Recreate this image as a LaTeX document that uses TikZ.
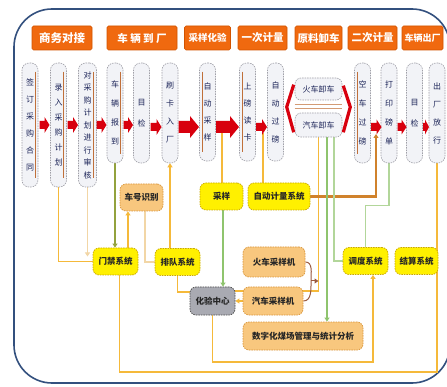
\documentclass[tikz,border=0pt]{standalone}
\usepackage{fontspec}
\setmainfont{Noto Sans CJK SC}
\usetikzlibrary{arrows.meta,calc}
\pgfdeclarelayer{frm}\pgfdeclarelayer{bg}\pgfsetlayers{frm,bg,main}
\definecolor{hdr}{HTML}{F0690F}
\definecolor{hdrd}{HTML}{D25300}
\definecolor{colfill}{HTML}{F2F3F7}
\definecolor{colbd}{HTML}{A0A0A8}
\definecolor{coltxt}{HTML}{1C2458}
\definecolor{brln}{HTML}{C0703A}
\definecolor{arrred}{HTML}{D8000E}
\definecolor{yel}{HTML}{FFF000}
\definecolor{yelbd}{HTML}{C9A800}
\definecolor{org}{HTML}{F8C77E}
\definecolor{orgbd}{HTML}{D9963A}
\definecolor{gry}{HTML}{A9AAB2}
\definecolor{framec}{HTML}{33507E}
\definecolor{lnY}{HTML}{F5B93A}
\definecolor{lnB}{HTML}{F2D6A6}
\definecolor{lnO}{HTML}{93A23E}
\definecolor{lnG}{HTML}{8FC46E}
\definecolor{lnLG}{HTML}{B2D69A}
\definecolor{lnBr}{HTML}{D0822C}
\definecolor{lnBrace}{HTML}{9A5A40}
\newcommand\myRedArrow[6]{\fill[arrred] (#1,{#3-#4}) -- ({#2-#6},{#3-#4}) -- ({#2-#6},{#3-#5}) -- (#2,#3) -- ({#2-#6},{#3+#5}) -- ({#2-#6},{#3+#4}) -- (#1,{#3+#4}) -- cycle;}
\tikzset{
 hdrbox/.style={fill=hdr, draw=hdrd, line width=0.6pt, rounded corners=1.5pt, text=white, font=\bfseries\fontsize{10.5}{12}\selectfont, minimum height=24pt, inner sep=0pt},
 colbox/.style={fill=colfill, draw=colbd, dash pattern=on 1.5pt off 1pt, line width=0.6pt, rounded corners=7pt, minimum width=16pt, inner sep=0pt, align=center, text=coltxt},
 ybox/.style={fill=yel, draw=yelbd, dash pattern=on 1.5pt off 1pt, line width=0.7pt, rounded corners=6pt, minimum height=27pt, inner sep=0pt, text=black!85, font=\bfseries\fontsize{8.5}{10}\selectfont},
 obox/.style={ybox, fill=org, draw=orgbd},
 gbox/.style={ybox, fill=gry, draw=gray!60!black},
 conn/.style={line width=1.3pt},
 tip/.style={-{Triangle[width=5pt,length=4pt]}},
 brl/.style={brln, line width=1pt},
}
\begin{document}
\begin{tikzpicture}[x=1pt,y=-1pt]
\useasboundingbox (0,0) rectangle (447,387);
\begin{pgfonlayer}{frm}
\fill[white] (0,0) rectangle (447,387);
\draw[draw=framec, fill=white, line width=1.6pt, rounded corners=38pt] (14,9) rectangle (450,383);
\end{pgfonlayer}

% headers
\node[hdrbox, minimum width=60pt, font=\bfseries\fontsize{11.5}{13}\selectfont] (h1) at (62,38) {商务对接};
\node[hdrbox, minimum width=70pt] (h2) at (142,38) {车 辆 到 厂};
\node[hdrbox, minimum width=46pt, font=\bfseries\fontsize{9.5}{12}\selectfont] (h3) at (207.5,38) {采样化验};
\node[hdrbox, minimum width=49pt] (h4) at (262.5,38) {一次计量};
\node[hdrbox, minimum width=47pt] (h5) at (318.5,38) {原料卸车};
\node[hdrbox, minimum width=49pt] (h6) at (372.5,38) {二次计量};
\node[hdrbox, minimum width=41pt, font=\bfseries\fontsize{9}{11}\selectfont] (h7) at (422.5,38) {车辆出厂};

% columns
\node[colbox, minimum height=124pt, font=\fontsize{8}{17}\selectfont] (c1) at (30,125) {签\\订\\采\\购\\合\\同};
\node[colbox, minimum height=124pt, font=\fontsize{8}{15}\selectfont] (c2) at (58.5,125) {录\\入\\采\\购\\计\\划};
\node[colbox, minimum height=124pt, minimum width=18pt, font=\fontsize{8}{12.5}\selectfont] (c3) at (87.5,125) {对\\采\\购\\计\\划\\进\\行\\审\\核};
\node[colbox, minimum height=100pt, font=\fontsize{8}{19}\selectfont] (c4) at (115,113) {车\\辆\\报\\到};
\node[colbox, minimum height=100pt, font=\fontsize{8}{21}\selectfont] (c5) at (141.5,113) {目\\检};
\node[colbox, minimum height=100pt, font=\fontsize{8}{18}\selectfont] (c6) at (170,113) {刷\\卡\\入\\厂};
\node[colbox, minimum height=98pt, font=\fontsize{8}{17}\selectfont] (c7) at (207.5,112) {自\\动\\采\\样};
\node[colbox, minimum height=98pt, font=\fontsize{8}{17}\selectfont] (c8) at (247.5,112) {上\\磅\\读\\卡};
\node[colbox, minimum height=98pt, font=\fontsize{8}{18}\selectfont] (c9) at (275.5,112) {自\\动\\过\\磅};
\node[colbox, minimum height=100pt, font=\fontsize{8}{19}\selectfont] (c11) at (362.5,113) {空\\车\\过\\磅};
\node[colbox, minimum height=100pt, font=\fontsize{8}{19}\selectfont] (c12) at (389,113) {打\\印\\磅\\单};
\node[colbox, minimum height=100pt, font=\fontsize{8}{21}\selectfont] (c13) at (414.5,113) {目\\检};
\node[colbox, minimum height=100pt, font=\fontsize{8}{18}\selectfont] (c14) at (437,113) {出\\厂\\放\\行};

% inner brown lines
\foreach \c in {c1,c2,c3,c4}{\draw[brl] ([xshift=-3pt,yshift=-9pt]\c.north east) -- ([xshift=-3pt,yshift=9pt]\c.south east);}
\foreach \c in {c7,c8,c11}{\draw[brl] ([xshift=3pt,yshift=-9pt]\c.north west) -- ([xshift=3pt,yshift=9pt]\c.south west);}

% bracket boxes
\node[colbox, minimum width=47pt, minimum height=22pt, rounded corners=6pt, font=\fontsize{8}{10}\selectfont] (bx1) at (318.5,89) {火车卸车};
\node[colbox, minimum width=47pt, minimum height=24pt, rounded corners=6pt, font=\fontsize{8}{10}\selectfont] (bx2) at (318.5,125) {汽车卸车};
\draw[brln!70, line width=0.6pt] ([yshift=-4pt]bx1.south west) -- ([yshift=-4pt]bx1.south east);
\draw[brln!70, line width=0.6pt] ([yshift=4pt]bx2.north west) -- ([yshift=4pt]bx2.north east);
\draw[arrred, line width=3.2pt, line join=miter] ([xshift=-1pt,yshift=-7pt]bx1.north west) -- ([xshift=-8pt]$(bx1.west)!0.5!(bx2.west)$) -- ([xshift=-1pt,yshift=5pt]bx2.south west);
\draw[arrred, line width=3.2pt, line join=miter] ([xshift=1pt,yshift=-8pt]bx1.north east) -- ([xshift=8pt]$(bx1.east)!0.5!(bx2.east)$) -- ([xshift=1pt,yshift=5pt]bx2.south east);

% red process arrows
\myRedArrow{39.5}{49.5}{125}{4}{8}{5}
\myRedArrow{67.5}{78}{125}{4}{8}{5}
\myRedArrow{96.5}{106.5}{125}{4}{8}{5}
\myRedArrow{123.5}{133}{125}{4}{8}{5}
\myRedArrow{150.5}{161.5}{127}{4}{8}{5}
\myRedArrow{178.5}{199}{127}{6}{11}{9}
\myRedArrow{216}{239}{127}{6}{11}{9}
\myRedArrow{256}{267}{127}{4}{8}{5}
\myRedArrow{371}{381.5}{127}{4}{7.5}{5}
\myRedArrow{397.5}{406.5}{127}{4}{7.5}{5}
\myRedArrow{423}{429}{127}{4}{7.5}{4}
\coordinate (a78) at (222,127);
\coordinate (a89) at (263,127);
\coordinate (a1112) at (376,127);

% bottom boxes
\node[obox, minimum width=43pt] (cpsb) at (141.5,197.5) {车号识别};
\node[ybox, minimum width=45pt] (mjxt) at (115.5,261.5) {门禁系统};
\node[ybox, minimum width=45pt] (pdxt) at (177.5,262) {排队系统};
\node[ybox, minimum width=43pt] (cy) at (221.5,196.5) {采样};
\node[ybox, minimum width=62pt] (zdjl) at (279,196.5) {自动计量系统};
\node[gbox, minimum width=45pt, minimum height=28pt] (hyzx) at (212.5,301) {化验中心};
\node[obox, minimum width=62pt, minimum height=30pt] (yckz) at (274,262) {火车采样机};
\node[obox, minimum width=60pt, minimum height=28pt] (hyzd) at (273,301) {汽车采样机};
\node[obox, minimum width=120pt, minimum height=28pt] (jcfx) at (303,336) {数字化煤场管理与统计分析};
\node[ybox, minimum width=45pt] (jlxt) at (365.5,261) {调度系统};
\node[ybox, minimum width=43pt] (jsxt) at (416.5,261) {结算系统};

\coordinate (b14) at (437,372);
\coordinate (b9) at (373,362);
\coordinate (jn) at (311,281);

\begin{pgfonlayer}{bg}
\draw[conn, lnY] (c2.south) |- (mjxt.west);
\draw[conn, lnB, tip] (c3.south) -- ([yshift=5pt]c3.south |- mjxt.west);
\draw[conn, lnO, tip] (c4.south) -- (c4.south |- mjxt.north);
\draw[conn, lnY, tip] ([xshift=12.5pt]mjxt.north) -- ([xshift=12.5pt]mjxt.north |- cpsb.south);
\draw[conn, lnB] ([xshift=3.5pt]cpsb.south) |- (pdxt.west);
\draw[conn, lnY, tip] (c6.south |- pdxt.north) -- (c6.south);
\draw[conn, lnY] (pdxt.south) |- ([yshift=9pt]hyzx.west);
\draw[conn, lnY] ([xshift=4pt]mjxt.south) |- (b14) -- (c14.south);
\draw[conn, lnY, tip] (hyzx.south) |- (b9) -- (b9 |- jlxt.south);
\draw[conn, lnY, tip] (hyzd.west) -- (hyzx.east);
\draw[conn, lnY] (bx2.south) |- ([yshift=10pt]hyzx.east);
\draw[lnBrace, line width=1pt] (yckz.east) to[out=0,in=90] (jn) to[out=-90,in=0] (hyzd.east);
\draw[lnBrace, line width=1pt, tip] (jn) -- (jn -| bx2.south);
\draw[conn, lnY] ([yshift=-6pt]a78) -- (a78 |- cy.north);
\draw[conn, lnG, line width=1.8pt, tip] ([xshift=1.5pt]cy.south) -- ([xshift=1.5pt]cy.south |- hyzx.north);
\draw[conn, lnY] ([yshift=-6pt]a89) -- (a89 |- zdjl.north);
\draw[line width=2.6pt, lnBr, tip] (zdjl.east) -| ([yshift=-7pt]a1112);
\draw[line width=2pt, lnG, tip] ([xshift=8.5pt]bx2.south) -- ([xshift=8.5pt]bx2.south |- jcfx.north);
\draw[conn, lnLG] ([xshift=15.5pt]bx2.south) |- (jlxt.west);
\draw[conn, lnLG] (jlxt.north) |- ([yshift=-42pt]c12.south) -- (c12.south);
\end{pgfonlayer}
\end{tikzpicture}
\end{document}
